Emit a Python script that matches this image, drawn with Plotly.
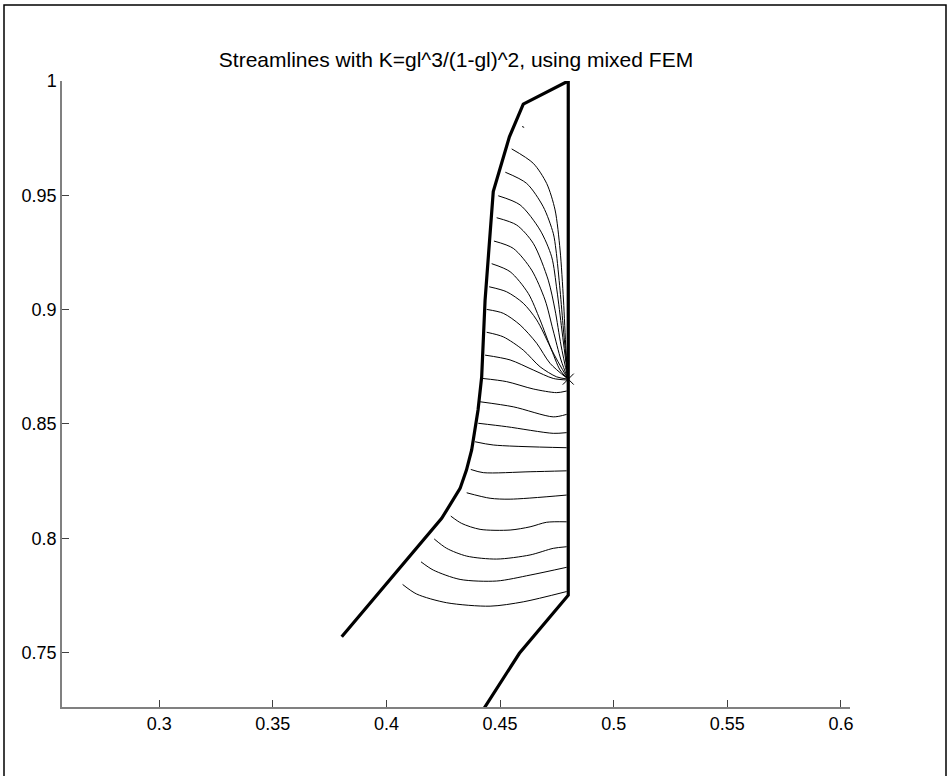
import plotly.graph_objects as go

# ---- data (in data units) ----
title_text = "Streamlines with K=gl^3/(1-gl)^2, using mixed FEM"

x_tick_vals = [0.3, 0.35, 0.4, 0.45, 0.5, 0.55, 0.6]
x_tick_text = ["0.3", "0.35", "0.4", "0.45", "0.5", "0.55", "0.6"]
y_tick_vals = [0.75, 0.8, 0.85, 0.9, 0.95, 1.0]
y_tick_text = ["0.75", "0.8", "0.85", "0.9", "0.95", "1"]

x_range = [0.2572, 0.604]
y_range = [0.7262, 1.0]

# domain boundary (left side, top, right side)
boundary_x = [0.3803, 0.4243, 0.4324, 0.4352, 0.4375, 0.4389, 0.4403, 0.4419,
              0.4434, 0.4470, 0.4541, 0.4602, 0.4800, 0.4800, 0.4585, 0.4370]
boundary_y = [0.7569, 0.8087, 0.8218, 0.8298, 0.8386, 0.8473, 0.8561, 0.8706,
              0.9042, 0.9516, 0.9756, 0.9899, 1.0000, 0.7751, 0.7497, 0.7164]

# source point
source_x = [0.4800]
source_y = [0.8696]

# streamlines
stream_x = [
    [0.4597, 0.4606],
    [0.4551, 0.4646, 0.4705, 0.4742, 0.4764, 0.4779, 0.4790, 0.4799],
    [0.4523, 0.4617, 0.4690, 0.4734, 0.4746, 0.4764, 0.4779, 0.4799],
    [0.4492, 0.4588, 0.4676, 0.4727, 0.4750, 0.4772, 0.4799],
    [0.4485, 0.4573, 0.4646, 0.4712, 0.4742, 0.4768, 0.4799],
    [0.4473, 0.4558, 0.4639, 0.4698, 0.4733, 0.4768, 0.4799],
    [0.4463, 0.4544, 0.4624, 0.4676, 0.4728, 0.4799],
    [0.4452, 0.4529, 0.4602, 0.4661, 0.4720, 0.4764, 0.4799],
    [0.4441, 0.4514, 0.4588, 0.4661, 0.4720, 0.4799],
    [0.4441, 0.4514, 0.4602, 0.4676, 0.4749, 0.4799],
    [0.4434, 0.4544, 0.4646, 0.4734, 0.4799],
    [0.4423, 0.4529, 0.4646, 0.4749, 0.4793],
    [0.4412, 0.4558, 0.4734, 0.4793],
    [0.4404, 0.4529, 0.4734, 0.4793],
    [0.4390, 0.4470, 0.4793],
    [0.4371, 0.4426, 0.4632, 0.4793],
    [0.4353, 0.4456, 0.4544, 0.4793],
    [0.4283, 0.4331, 0.4412, 0.4544, 0.4632, 0.4705, 0.4793],
    [0.4210, 0.4265, 0.4353, 0.4485, 0.4632, 0.4734, 0.4793],
    [0.4152, 0.4206, 0.4324, 0.4485, 0.4632, 0.4793],
    [0.4071, 0.4133, 0.4265, 0.4456, 0.4602, 0.4793],
]
stream_y = [
    [0.9801, 0.9797],
    [0.9703, 0.9640, 0.9552, 0.9436, 0.9261, 0.9042, 0.8823, 0.8696],
    [0.9601, 0.9552, 0.9450, 0.9334, 0.9261, 0.9085, 0.8911, 0.8696],
    [0.9498, 0.9458, 0.9348, 0.9231, 0.9086, 0.8911, 0.8696],
    [0.9402, 0.9370, 0.9290, 0.9129, 0.8998, 0.8845, 0.8696],
    [0.9300, 0.9268, 0.9173, 0.9042, 0.8911, 0.8780, 0.8696],
    [0.9201, 0.9166, 0.9071, 0.8955, 0.8823, 0.8696],
    [0.9100, 0.9078, 0.9028, 0.8955, 0.8838, 0.8736, 0.8696],
    [0.9001, 0.8984, 0.8933, 0.8853, 0.8765, 0.8696],
    [0.8901, 0.8881, 0.8823, 0.8750, 0.8706, 0.8696],
    [0.8801, 0.8780, 0.8736, 0.8699, 0.8692],
    [0.8699, 0.8685, 0.8653, 0.8637, 0.8644],
    [0.8597, 0.8575, 0.8531, 0.8542],
    [0.8503, 0.8488, 0.8459, 0.8462],
    [0.8422, 0.8408, 0.8396],
    [0.8301, 0.8287, 0.8291, 0.8295],
    [0.8199, 0.8175, 0.8171, 0.8189],
    [0.8097, 0.8065, 0.8039, 0.8036, 0.8050, 0.8070, 0.8072],
    [0.7997, 0.7956, 0.7922, 0.7909, 0.7927, 0.7956, 0.7963],
    [0.7897, 0.7861, 0.7820, 0.7813, 0.7839, 0.7873],
    [0.7798, 0.7756, 0.7718, 0.7703, 0.7722, 0.7767],
]

# ---- figure ----
FONT = "Liberation Sans, Arial, Helvetica, sans-serif"
fig = go.Figure()

for sx, sy in zip(stream_x, stream_y):
    fig.add_trace(go.Scatter(x=sx, y=sy, mode="lines",
                             line=dict(color="black", width=1,
                                       shape="spline", smoothing=0.8),
                             showlegend=False, hoverinfo="skip"))

fig.add_trace(go.Scatter(x=boundary_x, y=boundary_y, mode="lines",
                         line=dict(color="black", width=3.2),
                         showlegend=False, hoverinfo="skip"))

fig.add_trace(go.Scatter(x=source_x, y=source_y, mode="markers",
                         marker=dict(symbol="x-thin-open", size=11,
                                     color="black",
                                     line=dict(color="black", width=1)),
                         showlegend=False, hoverinfo="skip", cliponaxis=False))

L, R, T, B = 62, 102, 81, 69
W, H = 952, 776
pw, ph = W - L - R, H - T - B

axis_common = dict(showgrid=False, zeroline=False, showline=True,
                   linecolor="#808080", linewidth=1.5, ticks="inside",
                   ticklen=7, tickwidth=1, tickcolor="#404040",
                   tickfont=dict(family=FONT, size=18, color="black"),
                   mirror=False)

fig.update_xaxes(range=x_range, tickvals=x_tick_vals, ticktext=x_tick_text,
                 **axis_common)
fig.update_yaxes(range=y_range, tickvals=y_tick_vals, ticktext=y_tick_text,
                 **axis_common)

fig.update_layout(
    width=W, height=H,
    margin=dict(l=L, r=R, t=T, b=B, pad=0),
    plot_bgcolor="white", paper_bgcolor="white",
    font=dict(family=FONT, size=18, color="black"),
    title=dict(text=title_text, x=0.5, xref="paper",
               y=1 - 60 / H, yref="container", yanchor="middle",
               xanchor="center",
               font=dict(family=FONT, size=21, color="black")),
    shapes=[dict(type="rect", xref="paper", yref="paper",
                 x0=(4 - L) / pw, x1=(946 - L) / pw,
                 y0=-(779 - (H - B)) / ph, y1=((H - B) - 5) / ph,
                 line=dict(color="black", width=1.5),
                 fillcolor="rgba(0,0,0,0)")],
)

fig.write_html("out.html")
